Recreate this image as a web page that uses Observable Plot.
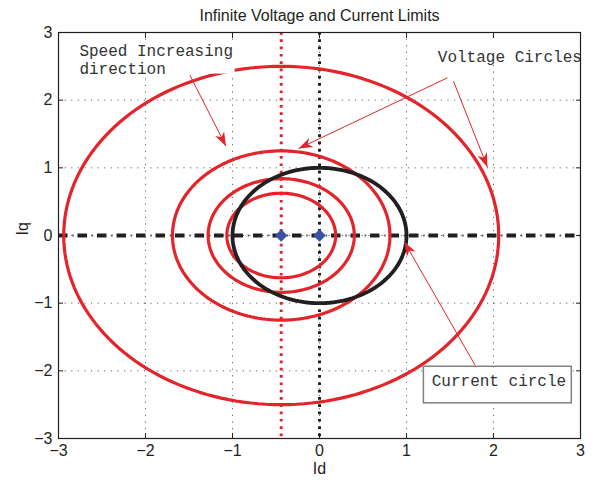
<!DOCTYPE html>
<html><head><meta charset="utf-8">
<script src="https://cdn.jsdelivr.net/npm/d3@7"></script>
<script src="https://cdn.jsdelivr.net/npm/@observablehq/plot@0.6"></script>
<style>body{margin:0;background:#fff;} svg{display:block;}</style>
</head><body><div id="chart"></div>
<script>
// ---- data ----
const title = "Infinite Voltage and Current Limits";
const xLabel = "Id";
const yLabel = "Iq";
const xTicks = [-3, -2, -1, 0, 1, 2, 3];
const yTicks = [-3, -2, -1, 0, 1, 2, 3];
const voltageCenter = -0.44;
const voltageRadii = [0.625, 0.84, 1.25, 2.5];
const currentCenter = 0;
const currentRadius = 1;
const diamondX = [-0.44, 0];
const diamondY = [0, 0];
const arrowX1 = [-1.49, 1.47, 1.54, 1.79];
const arrowY1 = [2.37, 2.33, 2.28, -1.92];
const arrowX2 = [-1.075, -0.24, 1.93, 0.975];
const arrowY2 = [1.32, 1.285, 1.01, -0.095];
const noteText = ["Speed Increasing\ndirection", "Voltage Circles", "Current circle"];
const noteX = [-2.76, 1.36, 1.29];
const noteY = [2.845, 2.75, -2.03];
const boxX1 = [-2.81, 1.30, 1.20];
const boxX2 = [-0.97, 3.0, 2.90];
const boxY1 = [2.385, 2.58, -2.48];
const boxY2 = [2.88, 2.93, -1.94];
const boxBorder = [false, false, true];

// ---- styles ----
const RED = "#e3242b", BLACK = "#231f20", BLUE = "#3953a4";

// ---- derived tables ----
const angles = d3.range(0, 361, 2).map(a => a * Math.PI / 180);
const circles = [
  ...voltageRadii.map((r, k) => ({k, cx: voltageCenter, r, c: "v"})),
  {k: 99, cx: currentCenter, r: currentRadius, c: "i"}
];
const pts = circles.flatMap(o => angles.map(t => ({k: o.k, c: o.c, x: o.cx + o.r * Math.cos(t), y: o.r * Math.sin(t)})));
const arrows = arrowX1.map((x, i) => ({x1: x, y1: arrowY1[i], x2: arrowX2[i], y2: arrowY2[i]}));
const notes = noteText.map((t, i) => ({t, x: noteX[i], y: noteY[i]}));
const boxes = boxX1.map((x, i) => ({x1: x, x2: boxX2[i], y1: boxY1[i], y2: boxY2[i], b: boxBorder[i]}));
const diamonds = diamondX.map((x, i) => ({x, y: diamondY[i]}));

function arrowHead(color, context) {
  const m = document.createElementNS("http://www.w3.org/2000/svg", "marker");
  m.setAttribute("viewBox", "-14 -6 15 12");
  m.setAttribute("markerWidth", 15);
  m.setAttribute("markerHeight", 12);
  m.setAttribute("markerUnits", "userSpaceOnUse");
  m.setAttribute("orient", "auto");
  m.setAttribute("refX", 0);
  m.setAttribute("refY", 0);
  const p = document.createElementNS("http://www.w3.org/2000/svg", "path");
  p.setAttribute("d", "M0,0L-14,-5L-10,0L-14,5Z");
  p.setAttribute("fill", color);
  p.setAttribute("stroke", "none");
  m.appendChild(p);
  m.attr = function (k, v) { this.setAttribute(k, v); return this; };
  m.node = function () { return this; };
  return m;
}

const fmt = d3.format("d");

const chart = Plot.plot({
  width: 600,
  height: 482,
  marginLeft: 58,
  marginRight: 20,
  marginTop: 32,
  marginBottom: 44,
  style: {fontFamily: "'Liberation Sans', Arial, sans-serif", fontSize: "16px", color: "#231f20", background: "#fff"},
  x: {domain: [-3, 3]},
  y: {domain: [-3, 3]},
  marks: [
    Plot.gridX(xTicks, {stroke: "#666", strokeOpacity: 1, strokeDasharray: "1.2,5.4"}),
    Plot.gridY(yTicks, {stroke: "#666", strokeOpacity: 1, strokeDasharray: "1.2,5.4"}),
    Plot.ruleY([0], {stroke: BLACK, strokeWidth: 4, strokeDasharray: "9.5,10"}),
    Plot.ruleY([0], {stroke: "#555", strokeWidth: 1.8, strokeDasharray: "1.5,18", strokeDashoffset: -14.2}),
    Plot.ruleX([voltageCenter], {stroke: RED, strokeWidth: 3, strokeDasharray: "2.7,4.6"}),
    Plot.ruleX([0], {stroke: BLACK, strokeWidth: 3, strokeDasharray: "2.7,4.6"}),
    Plot.line(pts.filter(d => d.c === "v"), {x: "x", y: "y", z: "k", stroke: RED, strokeWidth: 3.2}),
    Plot.line(pts.filter(d => d.c === "i"), {x: "x", y: "y", z: "k", stroke: BLACK, strokeWidth: 3.8}),
    Plot.dot(diamonds, {x: "x", y: "y", symbol: "diamond2", r: 5.6, fill: BLUE, stroke: "none"}),
    Plot.rect(boxes.filter(d => !d.b), {x1: "x1", x2: "x2", y1: "y1", y2: "y2", fill: "white"}),
    Plot.rect(boxes.filter(d => d.b), {x1: "x1", x2: "x2", y1: "y1", y2: "y2", fill: "white", stroke: "#808080", strokeWidth: 1.5}),
    Plot.text(notes, {x: "x", y: "y", text: "t", textAnchor: "start", lineAnchor: "top", lineHeight: 1.14, fontFamily: "'Liberation Mono', 'Courier New', monospace", fontSize: 16, fill: "#333"}),
    Plot.link(arrows, {x1: "x1", y1: "y1", x2: "x2", y2: "y2", stroke: RED, strokeWidth: 1, markerEnd: arrowHead}),
    Plot.frame({stroke: BLACK, strokeWidth: 1.2}),
    Plot.axisX(xTicks, {anchor: "bottom", tickSize: -5, tickPadding: 11, tickFormat: fmt, stroke: BLACK}),
    Plot.axisX(xTicks, {anchor: "top", tickSize: -5, tickFormat: () => "", stroke: BLACK}),
    Plot.axisY(yTicks, {anchor: "left", tickSize: -5, tickPadding: 11, tickFormat: fmt, stroke: BLACK}),
    Plot.axisY(yTicks, {anchor: "right", tickSize: -5, tickFormat: () => "", stroke: BLACK}),
    Plot.text([title], {text: d => d, frameAnchor: "top", dy: -12, lineAnchor: "bottom", fontSize: 16, fill: "#231f20"}),
    Plot.text([xLabel], {text: d => d, frameAnchor: "bottom", dy: 30, lineAnchor: "middle", fontSize: 16, fill: "#231f20"}),
    Plot.text([yLabel], {text: d => d, frameAnchor: "left", dx: -36, rotate: -90, lineAnchor: "middle", fontSize: 16, fill: "#231f20"})
  ]
});
document.getElementById("chart").appendChild(chart);
</script>
</body></html>
